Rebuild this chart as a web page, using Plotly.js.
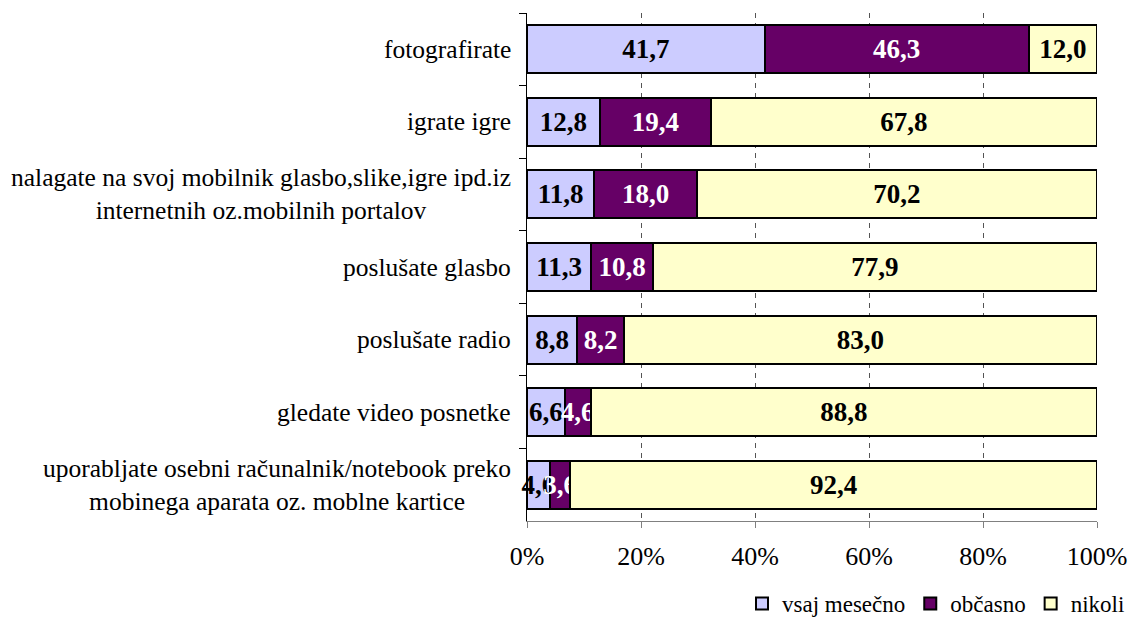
<!DOCTYPE html>
<html>
<head>
<meta charset="utf-8">
<script src="https://cdn.plot.ly/plotly-3.0.1.min.js"></script>
<style>html,body{margin:0;padding:0;background:#fff;}#chart{width:1130px;height:632px;}</style>
</head>
<body>
<div id="chart"></div>
<script>
var categories = [
  "fotografirate",
  "igrate igre",
  "nalagate na svoj mobilnik glasbo,slike,igre ipd.iz<br>internetnih oz.mobilnih portalov",
  "poslušate glasbo",
  "poslušate radio",
  "gledate video posnetke",
  "uporabljate osebni računalnik/notebook preko<br>mobinega aparata oz. moblne kartice"
];
var seriesNames = ["vsaj mesečno", "občasno", "nikoli"];
var vsajMesecno = [41.7, 12.8, 11.8, 11.3, 8.8, 6.6, 4.0];
var obcasno     = [46.3, 19.4, 18.0, 10.8, 8.2, 4.6, 3.6];
var nikoli      = [12.0, 67.8, 70.2, 77.9, 83.0, 88.8, 92.4];
var xTickVals = [0, 20, 40, 60, 80, 100];
var xTickText = ["0%", "20%", "40%", "60%", "80%", "100%"];

var colors = ["#CCCCFF", "#660066", "#FFFFCC"];
var textColors = ["#000000", "#FFFFFF", "#000000"];
var allValues = [vsajMesecno, obcasno, nikoli];
var FONT = "'Liberation Serif', 'Times New Roman', serif";

function fmt(v){ return v.toFixed(1).replace('.', ','); }

var traces = allValues.map(function(vals, i){
  return {
    type: "bar",
    orientation: "h",
    name: seriesNames[i],
    y: categories,
    x: vals,
    text: vals.map(fmt),
    textposition: "inside",
    insidetextanchor: "middle",
    textangle: 0,
    constraintext: "none",
    cliponaxis: false,
    textfont: {family: FONT, size: 27, color: textColors[i], weight: "bold"},
    marker: {color: colors[i], line: {color: "#000000", width: 2}},
    hoverinfo: "skip"
  };
});

var annotations = categories.map(function(c){
  return {
    xref: "paper", yref: "y", x: 0, y: c,
    xanchor: "right", yanchor: "middle", align: "center",
    xshift: -14,
    text: c, showarrow: false,
    font: {family: FONT, size: 25.5, color: "#000"}
  };
});

var layout = {
  width: 1130, height: 632,
  margin: {l: 527, r: 33, t: 13, b: 111, pad: 0, autoexpand: false},
  paper_bgcolor: "#fff", plot_bgcolor: "#fff",
  barmode: "stack",
  bargap: 0.34,
  showlegend: true,
  legend: {
    orientation: "h",
    xref: "container", yref: "container",
    x: 1, y: 0.045, xanchor: "right", yanchor: "middle",
    font: {family: FONT, size: 23, color: "#000"},
    itemwidth: 30, traceorder: "normal", tracegroupgap: 0,
    bgcolor: "rgba(0,0,0,0)"
  },
  xaxis: {
    range: [0, 100], tickmode: "array", tickvals: xTickVals, ticktext: xTickText,
    showgrid: true, gridcolor: "#555", griddash: "5px,5px", gridwidth: 1,
    showline: true, linecolor: "#808080", linewidth: 1,
    ticks: "outside", ticklen: 6, tickcolor: "#808080",
    ticklabelstandoff: 6,
    zeroline: false,
    tickfont: {family: FONT, size: 26, color: "#000"},
    fixedrange: true
  },
  yaxis: {
    type: "category",
    categoryorder: "array", categoryarray: categories,
    autorange: "reversed",
    showticklabels: false,
    tickson: "boundaries",
    ticks: "outside", ticklen: 7, tickcolor: "#000",
    showline: true, linecolor: "#000", linewidth: 1,
    showgrid: false, zeroline: false,
    fixedrange: true
  },
  annotations: annotations
};

Plotly.newPlot("chart", traces, layout, {displayModeBar: false, staticPlot: true});
</script>
</body>
</html>
